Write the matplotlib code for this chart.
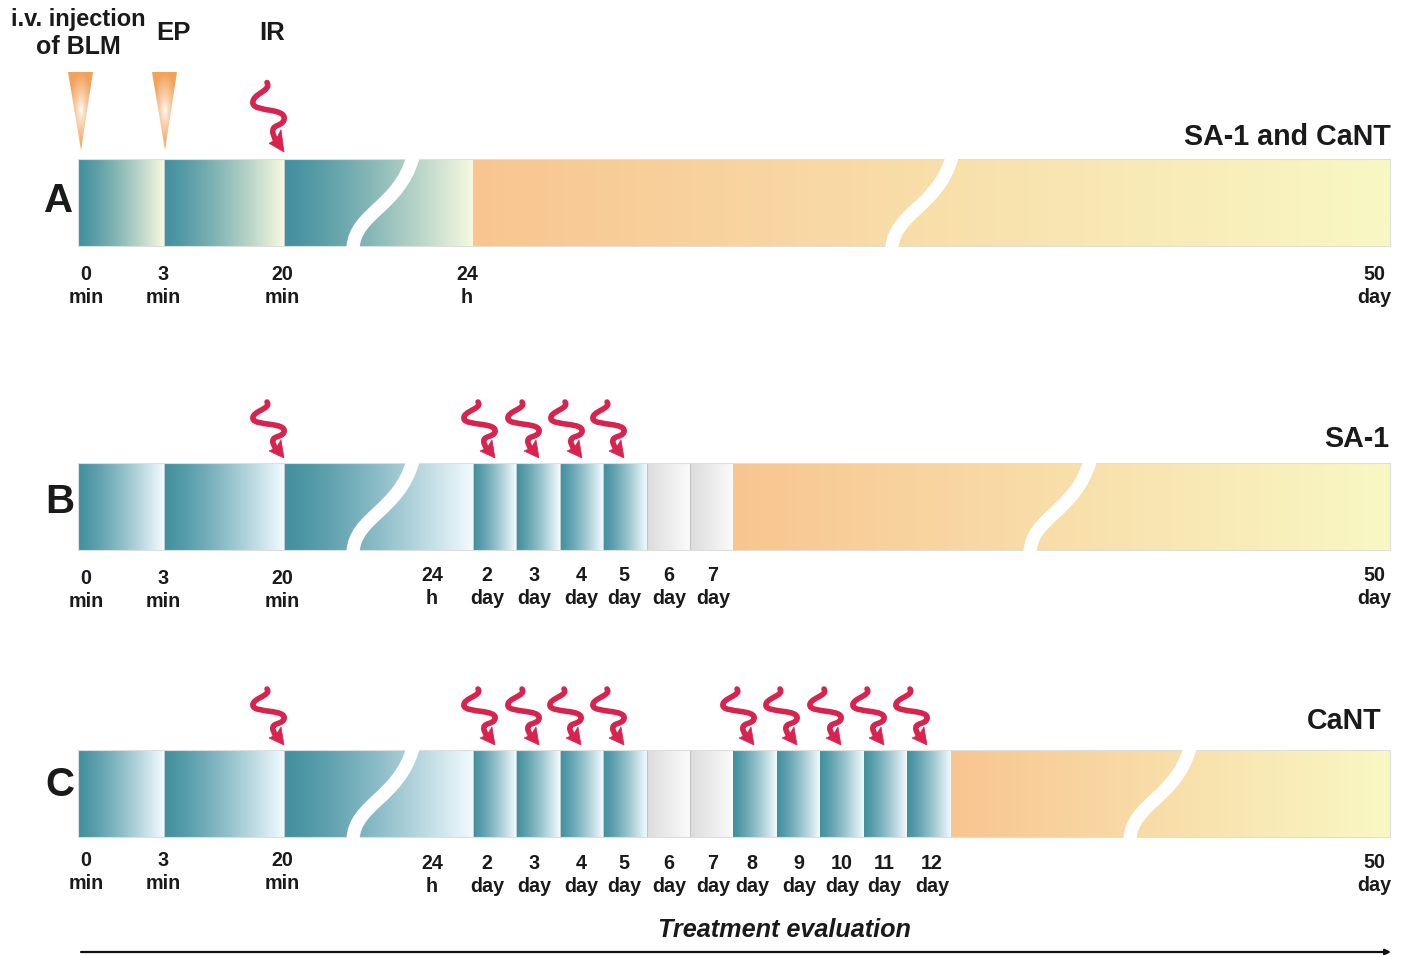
import numpy as np
import matplotlib
matplotlib.use("Agg")
import matplotlib.pyplot as plt
from matplotlib.path import Path
from matplotlib.patches import PathPatch, Polygon
from matplotlib.colors import to_rgb

plt.rcParams['font.family'] = ['Liberation Sans', 'DejaVu Sans']

# --- content -------------------------------------------------------------
row_names = ['A', 'B', 'C']
row_titles = ['SA-1 and CaNT', 'SA-1', 'CaNT']
row_top = [159, 463, 750]
row_bottom = [246, 550, 837]
title_x = [1391, 1389, 1382]
title_y = [136, 438, 720]
letter_y = [199, 500, 783]
letter_x = [59, 60, 60]

teal_edges_a = [78, 164, 284, 473]
teal_edges_b = [78, 164, 284, 473, 516, 560, 603, 647]
teal_edges_c = [78, 164, 284, 473, 516, 560, 603, 647]
grey_edges_b = [647, 690, 733]
grey_edges_c = [647, 690, 733]
extra_edges_c = [733, 777, 820, 864, 907, 951]
orange_start = [473, 733, 951]
bar_right = 1390
break_first = [353, 353, 353]
break_second = [892, 1030, 1130]

ir_tips_a = [284]
ir_tips_b = [284, 495, 539, 582, 624]
ir_tips_c = [284, 495, 539, 581, 624, 754, 797, 841, 884, 927]
ir_tip_y = [152, 458, 745]
ir_yscale = [1.24, 1.0, 1.0]

labels_a = [(86, '0', 'min', 273), (163, '3', 'min', 273), (282, '20', 'min', 273),
            (467, '24', 'h', 273), (1374, '50', 'day', 273)]
labels_b = [(86, '0', 'min', 577), (163, '3', 'min', 577), (282, '20', 'min', 577),
            (432, '24', 'h', 574), (487, '2', 'day', 574), (534, '3', 'day', 574),
            (581, '4', 'day', 574), (624, '5', 'day', 574), (669, '6', 'day', 574),
            (713, '7', 'day', 574), (1374, '50', 'day', 574)]
labels_c = [(86, '0', 'min', 859), (163, '3', 'min', 859), (282, '20', 'min', 859),
            (432, '24', 'h', 862), (487, '2', 'day', 862), (534, '3', 'day', 862),
            (581, '4', 'day', 862), (624, '5', 'day', 862), (669, '6', 'day', 862),
            (713, '7', 'day', 862), (752, '8', 'day', 862), (799, '9', 'day', 862),
            (842, '10', 'day', 862), (884, '11', 'day', 862), (932, '12', 'day', 862),
            (1374, '50', 'day', 861)]
injection_x = [81, 165]
head_labels = [(78, 18, 'i.v. injection', 17), (78, 45, 'of BLM', 18), (173, 32, 'EP', 18.5), (272, 32, 'IR', 18.5)]

TEAL = '#43909f'
PALE_A = '#f7f9df'
PALE_BC = '#f2fbff'
GREY0, GREY1 = '#dcdcdc', '#fbfbfb'
OR0, OR1 = '#f9c590', '#f8f8c4'
RED = '#d8234f'

fig = plt.figure(figsize=(14.08, 9.55), dpi=100)
ax = fig.add_axes([0, 0, 1, 1])
ax.axis('off')


def grad(x0, x1, y0, y1, c0, c1, z=1, gamma=1.0):
    t = (np.linspace(0, 1, 256)[None, :, None]) ** gamma
    img = (1 - t) * np.array(to_rgb(c0)) + t * np.array(to_rgb(c1))
    ax.imshow(img, extent=(x0, x1, y1, y0 + 0.5), aspect='auto', zorder=z, interpolation='bilinear')


def bar_break(xb, top, bot):
    h = bot - top
    verts = [(xb, bot + 2), (xb + 2, bot - .38 * h), (xb + 46, bot - .45 * h), (xb + 60, top - 2)]
    p = Path(verts, [Path.MOVETO, Path.CURVE4, Path.CURVE4, Path.CURVE4])
    ax.add_patch(PathPatch(p, fc='none', ec='white', lw=9.5, zorder=4, capstyle='butt'))


def squiggle(tx, ty, sy):
    o = [(-17, -56), (-12, -49), (-33, -47), (-31, -39),
         (-29, -32), (3, -36), (0, -26),
         (-2, -20), (-13, -23), (-11, -15), (-8, -8)]
    v = [(tx + a, ty + b * sy) for a, b in o]
    codes = [Path.MOVETO] + [Path.CURVE4] * 9 + [Path.LINETO]
    ax.add_patch(PathPatch(Path(v, codes), fc='none', ec=RED, lw=4.0, zorder=6,
                           capstyle='round', joinstyle='round'))
    head = [(0, 0), (-15, -7), (-8, -10), (-3, -18)]
    ax.add_patch(Polygon([(tx + a, ty + b * sy) for a, b in head], fc=RED, ec=RED, lw=.5, zorder=6))


def text(x, y, s, size, dy=1.5, **kw):
    ax.text(x, y + dy, s, fontsize=size, fontweight='bold', color='#1a1a1a',
            ha=kw.pop('ha', 'center'), va='center', **kw)


teal_sets = [teal_edges_a, teal_edges_b, teal_edges_c]
tips = [ir_tips_a, ir_tips_b, ir_tips_c]
label_sets = [labels_a, labels_b, labels_c]
pale = [PALE_A, PALE_BC, PALE_BC]

for i in range(3):
    top, bot = row_top[i], row_bottom[i]
    e = teal_sets[i]
    for a, b in zip(e[:-1], e[1:]):
        grad(a, b, top, bot, TEAL, pale[i], gamma=1.25)
        ax.plot([a, a], [top, bot], color='#d5dcdc', lw=.6, zorder=2)
    if i > 0:
        g = grey_edges_b if i == 1 else grey_edges_c
        for a, b in zip(g[:-1], g[1:]):
            grad(a, b, top, bot, GREY0, GREY1)
            ax.plot([a, a], [top, bot], color='#c4c4c4', lw=.8, zorder=2)
    if i == 2:
        for a, b in zip(extra_edges_c[:-1], extra_edges_c[1:]):
            grad(a, b, top, bot, TEAL, PALE_BC, gamma=1.25)
    grad(orange_start[i], bar_right, top, bot, OR0, OR1)
    ax.plot([78, bar_right, bar_right, 78, 78], [top, top, bot, bot, top], color='#dddfdb', lw=.8, zorder=3)
    bar_break(break_first[i], top, bot)
    bar_break(break_second[i], top, bot)
    for tx in tips[i]:
        squiggle(tx, ir_tip_y[i], ir_yscale[i])
    for x, num, unit, y in label_sets[i]:
        text(x, y, num, 14.2)
        text(x, y + 23, unit, 14.2)
    text(letter_x[i], letter_y[i], row_names[i], 29, dy=2)
    text(title_x[i], title_y[i], row_titles[i], 20.6, dy=1, ha='right')

# injection wedges
orange_tip = np.array(to_rgb('#f2a25a'))
for cx in injection_x:
    yy, xx = np.mgrid[72:151, cx - 14:cx + 15]
    d = np.clip(np.hypot((xx - cx) / 13.0, (yy - 110) / 38.0), 0, 1)[..., None] ** 0.75
    img = (1 - d) * np.array([1, 1, 1.0]) + d * orange_tip
    im = ax.imshow(img, extent=(cx - 14, cx + 14, 151, 72), aspect='auto', zorder=5)
    poly = Polygon([(cx - 13, 72), (cx + 12, 72), (cx, 150)], fc='none', ec='none', transform=ax.transData)
    ax.add_patch(poly)
    im.set_clip_path(poly)

for x, y, s, size in head_labels:
    text(x, y, s, size, dy=1.5)

text(784, 928, 'Treatment evaluation', 18.2, style='italic')
ax.annotate('', xy=(1391, 952), xytext=(81, 952),
            arrowprops=dict(arrowstyle='-|>', color='#111111', lw=1.6, mutation_scale=8, shrinkA=0, shrinkB=0))

ax.set_xlim(0, 1408)
ax.set_ylim(955, 0)
fig.savefig('out.png', dpi=100)
